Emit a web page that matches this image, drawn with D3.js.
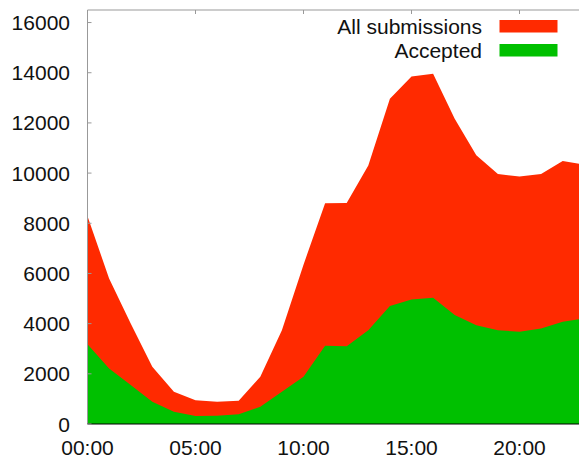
<!DOCTYPE html>
<html>
<head>
<meta charset="utf-8">
<script src="https://cdn.jsdelivr.net/npm/d3@7"></script>
<style>
  html, body { margin: 0; padding: 0; background: #fff; }
  svg { display: block; font-family: "Liberation Sans", Arial, sans-serif; }
</style>
</head>
<body>
<div id="chart"></div>
<script>
// submissions per hour of day
var hours = [0, 1, 2, 3, 4, 5, 6, 7, 8, 9, 10, 11, 12, 13, 14, 15, 16, 17, 18, 19, 20, 21, 22, 23];
var allSubmissions = [8280, 5800, 4010, 2280, 1290, 950, 890, 930, 1880, 3740, 6350, 8800, 8810, 10300,
                      12960, 13850, 13960, 12170, 10710, 9960, 9860, 9960, 10480, 10340];
var accepted = [3180, 2210, 1550, 890, 490, 320, 330, 385, 690, 1290, 1885, 3117, 3100, 3740,
                4700, 4960, 5030, 4340, 3940, 3740, 3675, 3808, 4072, 4210];
var xTicks = [0, 5, 10, 15, 20];
var yTicks = [0, 2000, 4000, 6000, 8000, 10000, 12000, 14000, 16000];
var seriesNames = ["All submissions", "Accepted"];
var seriesColors = ["#ff2a00", "#00c000"];

var width = 579, height = 458;
var plotLeft = 87.5, plotTop = 10, plotBottom = 424;

var x = d3.scaleLinear().domain([0, 23]).range([plotLeft, 584.3]);
var y = d3.scaleLinear().domain([0, 16500]).range([plotBottom, plotTop]);

var svg = d3.select("#chart").append("svg")
    .attr("width", width)
    .attr("height", height);

function areaFor(values) {
  return d3.area()
      .x(function (d, i) { return x(hours[i]); })
      .y0(y(0))
      .y1(function (d) { return y(d); })(values);
}

svg.append("path")
    .attr("d", areaFor(allSubmissions))
    .attr("fill", seriesColors[0]);

svg.append("path")
    .attr("d", areaFor(accepted))
    .attr("fill", seriesColors[1]);

// border: gray on left/top, black baseline
svg.append("line")
    .attr("x1", plotLeft).attr("x2", plotLeft)
    .attr("y1", plotTop).attr("y2", plotBottom)
    .attr("stroke", "#999").attr("stroke-width", 1);
svg.append("line")
    .attr("x1", plotLeft).attr("x2", width)
    .attr("y1", plotTop).attr("y2", plotTop)
    .attr("stroke", "#999").attr("stroke-width", 1);
svg.append("line")
    .attr("x1", plotLeft).attr("x2", width)
    .attr("y1", plotBottom).attr("y2", plotBottom)
    .attr("stroke", "#000").attr("stroke-width", 1.2);

// y axis labels + small inward ticks
svg.selectAll(".ytick")
    .data(yTicks)
    .enter().append("line")
    .attr("x1", plotLeft).attr("x2", plotLeft + 4)
    .attr("y1", d => y(d)).attr("y2", d => y(d))
    .attr("stroke", "#999");

svg.selectAll(".ylab")
    .data(yTicks)
    .enter().append("text")
    .attr("x", 70)
    .attr("y", d => y(d))
    .attr("dy", "0.36em")
    .attr("text-anchor", "end")
    .attr("font-size", 21)
    .attr("fill", "#111")
    .text(d => d);

// x axis labels + mirror ticks on top
svg.selectAll(".xtick")
    .data(xTicks)
    .enter().append("line")
    .attr("x1", d => x(d)).attr("x2", d => x(d))
    .attr("y1", plotTop).attr("y2", plotTop + 4)
    .attr("stroke", "#999");

svg.selectAll(".xlab")
    .data(xTicks)
    .enter().append("text")
    .attr("x", d => x(d))
    .attr("y", 447)
    .attr("dy", "0.36em")
    .attr("text-anchor", "middle")
    .attr("font-size", 21)
    .attr("fill", "#111")
    .text(d => (d < 10 ? "0" + d : d) + ":00");

// legend
var legend = svg.selectAll(".legend")
    .data(seriesNames)
    .enter().append("g")
    .attr("transform", (d, i) => "translate(0," + (26 + i * 24) + ")");

legend.append("text")
    .attr("x", 482)
    .attr("dy", "0.36em")
    .attr("text-anchor", "end")
    .attr("font-size", 21)
    .attr("fill", "#111")
    .text(d => d);

legend.append("rect")
    .attr("x", 499.5)
    .attr("y", -6)
    .attr("width", 58)
    .attr("height", 12.5)
    .attr("fill", (d, i) => seriesColors[i]);
</script>
</body>
</html>
